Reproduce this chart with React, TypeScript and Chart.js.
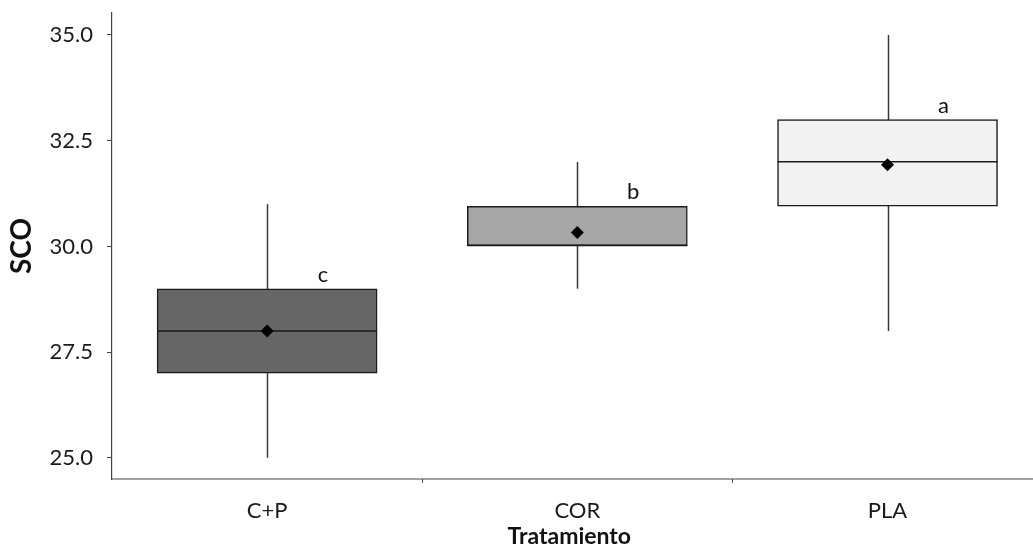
import React, { useEffect, useRef } from "react";
import { Chart, registerables } from "chart.js";

Chart.register(...registerables);

// ---- data ----
const categories = ["C+P", "COR", "PLA"];
const whiskerMin = [25, 29, 28];
const q1 = [27, 30.02, 30.95];
const median = [28, 30.02, 32];
const q3 = [29, 30.95, 33];
const whiskerMax = [31, 32, 35];
const means = [28, 30.33, 31.93];
const groupLetters = ["c", "b", "a"];
const yTicks = [25, 27.5, 30, 32.5, 35];
const xBoundaries = [1.5, 2.5];

const FONT = "Lato";
const X_MAX = 3.448; // third category is partly cut off at the right edge

const boxExtras = {
  id: "boxExtras",
  beforeDatasetsDraw(chart: any) {
    const { ctx, scales } = chart;
    const x = scales.x;
    const y = scales.y;
    ctx.save();
    // x axis line running to the right edge of the picture
    ctx.strokeStyle = "#444444";
    ctx.lineWidth = 1.2;
    ctx.beginPath();
    ctx.moveTo(x.left, x.top);
    ctx.lineTo(chart.width, x.top);
    ctx.stroke();
    // whiskers
    ctx.strokeStyle = "#3a3a3a";
    ctx.lineWidth = 1.5;
    categories.forEach((_, i) => {
      const px = Math.round(x.getPixelForValue(i + 1)) + 0.5;
      ctx.beginPath();
      ctx.moveTo(px, y.getPixelForValue(whiskerMin[i]));
      ctx.lineTo(px, y.getPixelForValue(whiskerMax[i]));
      ctx.stroke();
    });
    ctx.restore();
  },
  afterDatasetDraw(chart: any, args: any) {
    if (args.meta.type !== "bar") return;
    const { ctx, scales } = chart;
    const x = scales.x;
    const y = scales.y;
    ctx.save();
    ctx.strokeStyle = "#1a1a1a";
    ctx.lineWidth = 1.5;
    const bars = args.meta.data;
    categories.forEach((_, i) => {
      const bar = bars[i];
      const half = bar.width / 2;
      const cx = bar.x;
      const py = y.getPixelForValue(median[i]);
      ctx.beginPath();
      ctx.moveTo(cx - half, py);
      ctx.lineTo(cx + half, py);
      ctx.stroke();
    });
    ctx.fillStyle = "#111111";
    ctx.font = `22px ${FONT}`;
    ctx.textAlign = "center";
    ctx.textBaseline = "alphabetic";
    categories.forEach((_, i) => {
      const lx = x.getPixelForValue(i + 1.18);
      const ly = y.getPixelForValue(q3[i]) - 7;
      ctx.fillText(groupLetters[i], lx, ly);
    });
    ctx.restore();
  },
};

export default function App() {
  const canvasRef = useRef<HTMLCanvasElement | null>(null);

  useEffect(() => {
    if (!canvasRef.current) return;
    const chart = new Chart(canvasRef.current, {
      type: "bar",
      data: {
        datasets: [
          {
            type: "scatter",
            label: "Media",
            data: means.map((m, i) => ({ x: i + 1, y: m })),
            pointStyle: "rectRot",
            pointRadius: 6.5,
            pointBackgroundColor: "#000000",
            pointBorderColor: "#000000",
            pointBorderWidth: 0,
          } as any,
          {
            type: "bar",
            label: "Caja",
            data: categories.map((_, i) => ({ x: i + 1, y: [q1[i], q3[i]] })) as any,
            backgroundColor: ["#666666", "#a6a6a6", "#f2f2f2"],
            borderColor: "#1a1a1a",
            borderWidth: 1.5,
            borderSkipped: false,
            barThickness: 220,
          } as any,
        ],
      },
      options: {
        animation: false,
        responsive: false,
        devicePixelRatio: 1,
        layout: { padding: { top: 13, left: 0, right: 0, bottom: 0 } },
        plugins: {
          legend: { display: false },
          tooltip: { enabled: false },
        },
        scales: {
          x: {
            type: "linear",
            offset: false,
            min: 0.5,
            max: X_MAX,
            afterBuildTicks: (scale: any) => {
              scale.ticks = [1, xBoundaries[0], 2, xBoundaries[1], 3].map((v) => ({ value: v }));
            },
            afterFit: (scale: any) => {
              scale.height = 77;
              scale.paddingLeft = 0;
              scale.paddingRight = 0;
            },
            ticks: {
              autoSkip: false,
              maxRotation: 0,
              padding: 15,
              color: "#1a1a1a",
              font: { family: FONT, size: 22 },
              callback: (v: any) => (Number.isInteger(v) ? categories[v - 1] : ""),
            },
            grid: {
              offset: false,
              drawOnChartArea: false,
              drawTicks: true,
              tickLength: 4,
              tickColor: (ctx: any) =>
                ctx.tick && Number.isInteger(ctx.tick.value) ? "rgba(0,0,0,0)" : "#555555",
            },
            border: { display: false },
            title: {
              display: true,
              text: "Tratamiento",
              color: "#111111",
              font: { family: FONT, size: 23, weight: "bold" },
              padding: { top: 0, bottom: 6 },
            },
          },
          y: {
            type: "linear",
            min: 24.5,
            max: 35.52,
            afterBuildTicks: (scale: any) => {
              scale.ticks = yTicks.map((v) => ({ value: v }));
            },
            afterFit: (scale: any) => {
              scale.width = 112;
              scale.paddingTop = 0;
              scale.paddingBottom = 0;
            },
            ticks: {
              padding: 14,
              color: "#1a1a1a",
              font: { family: FONT, size: 22 },
              callback: (v: any) => Number(v).toFixed(1),
            },
            grid: {
              drawOnChartArea: false,
              drawTicks: true,
              tickLength: 5,
              tickColor: "#444444",
            },
            border: { display: true, color: "#444444", width: 1.2 },
            title: {
              display: true,
              text: "SCO",
              color: "#111111",
              font: { family: FONT, size: 28, weight: "bold" },
              padding: { top: 5, bottom: 0 },
            },
          },
        },
      } as any,
      plugins: [boxExtras],
    });
    return () => chart.destroy();
  }, []);

  return (
    <div style={{ position: "absolute", left: 0, top: 0, width: 1033, height: 556, background: "#ffffff" }}>
      <canvas ref={canvasRef} width={1033} height={556} style={{ display: "block" }} />
    </div>
  );
}
